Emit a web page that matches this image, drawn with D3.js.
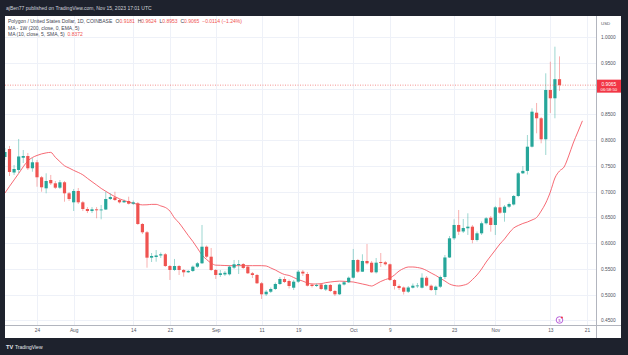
<!DOCTYPE html>
<html><head><meta charset="utf-8">
<script src="https://cdn.jsdelivr.net/npm/d3@7"></script>
<style>
html,body{margin:0;padding:0;background:#1e222d;}
svg{display:block;font-family:"Liberation Sans",Arial,sans-serif;}
</style>
</head><body>
<svg id="c" width="628" height="355"></svg>
<script>
// ---------- DATA (daily candles, first candle 2023-07-17) ----------
const firstDay = "2023-07-17";
const open = [0.7670,0.7825,0.7369,0.7418,0.7656,0.7689,0.7451,0.7567,0.7276,0.7062,0.7223,0.7159,0.7074,0.7179,0.6965,0.6790,0.7010,0.6790,0.6660,0.6621,0.6654,0.6635,0.6650,0.6854,0.6884,0.6835,0.6790,0.6816,0.6763,0.6771,0.6369,0.6208,0.5715,0.5728,0.5758,0.5781,0.5553,0.5476,0.5553,0.5476,0.5431,0.5457,0.5540,0.5606,0.5928,0.5734,0.5476,0.5379,0.5390,0.5392,0.5521,0.5573,0.5592,0.5540,0.5412,0.5379,0.5218,0.5004,0.5054,0.5107,0.5204,0.5301,0.5262,0.5132,0.5249,0.5443,0.5398,0.5189,0.5165,0.5195,0.5097,0.5185,0.5068,0.5004,0.5194,0.5237,0.5326,0.5670,0.5443,0.5651,0.5617,0.5431,0.5631,0.5625,0.5587,0.5282,0.5165,0.5136,0.5054,0.5132,0.5165,0.5132,0.5326,0.5171,0.5087,0.5152,0.5340,0.5719,0.6091,0.6350,0.6224,0.6286,0.6317,0.6058,0.6188,0.6383,0.6491,0.6350,0.6693,0.6588,0.6705,0.6748,0.6913,0.7353,0.7400,0.7870,0.8530,0.8422,0.8014,0.8971,0.8810,0.9181];
const high = [0.7845,0.7884,0.7515,0.8020,0.7806,0.7748,0.7651,0.7612,0.7301,0.7353,0.7321,0.7204,0.7223,0.7204,0.6990,0.7049,0.7068,0.6816,0.6698,0.6698,0.6698,0.6737,0.6996,0.6965,0.6996,0.6854,0.6845,0.6899,0.6825,0.6796,0.6388,0.6233,0.5806,0.5864,0.5816,0.5806,0.5573,0.5690,0.5573,0.5495,0.5476,0.5563,0.5631,0.6350,0.5952,0.5903,0.5495,0.5476,0.5457,0.5563,0.5670,0.5670,0.5611,0.5573,0.5437,0.5398,0.5243,0.5087,0.5136,0.5233,0.5340,0.5346,0.5291,0.5282,0.5476,0.5476,0.5437,0.5214,0.5214,0.5223,0.5204,0.5204,0.5087,0.5214,0.5262,0.5350,0.5884,0.5690,0.5781,0.5981,0.5651,0.5709,0.5806,0.5651,0.5602,0.5301,0.5195,0.5156,0.5165,0.5214,0.5223,0.5412,0.5359,0.5195,0.5175,0.5369,0.5767,0.6136,0.6460,0.6641,0.6466,0.6577,0.6350,0.6223,0.6418,0.6505,0.6524,0.6719,0.6880,0.6737,0.6786,0.6932,0.7379,0.7495,0.8097,0.8616,0.8719,0.8447,0.9295,0.9520,0.9812,0.9624];
const low = [0.7612,0.7301,0.7321,0.7359,0.7553,0.7418,0.7384,0.7093,0.6996,0.6965,0.7126,0.7049,0.7049,0.6802,0.6816,0.6621,0.6757,0.6621,0.6582,0.6582,0.6480,0.6460,0.6641,0.6835,0.6816,0.6767,0.6777,0.6748,0.6737,0.6350,0.6175,0.5521,0.5631,0.5637,0.5709,0.5534,0.5282,0.5457,0.5379,0.5346,0.5418,0.5437,0.5515,0.5592,0.5709,0.5457,0.5301,0.5340,0.5360,0.5369,0.5495,0.5398,0.5495,0.5398,0.5320,0.5204,0.4913,0.4971,0.5029,0.5087,0.5185,0.5223,0.5117,0.5087,0.5223,0.5359,0.5156,0.5136,0.5146,0.5087,0.5068,0.5049,0.4971,0.4990,0.5175,0.5223,0.5311,0.5418,0.5437,0.5583,0.5418,0.5408,0.5534,0.5563,0.5262,0.5097,0.5087,0.4999,0.5029,0.5117,0.5126,0.5117,0.5156,0.5068,0.4990,0.5126,0.5301,0.5709,0.6058,0.6156,0.6194,0.6156,0.5994,0.6029,0.6156,0.6359,0.6220,0.6156,0.6563,0.6414,0.6680,0.6728,0.6890,0.7340,0.7330,0.7855,0.8130,0.7936,0.7709,0.8525,0.8422,0.8953];
const close = [0.7767,0.7379,0.7437,0.7680,0.7689,0.7451,0.7567,0.7276,0.7082,0.7204,0.7159,0.7074,0.7179,0.6965,0.6854,0.7010,0.6790,0.6660,0.6621,0.6654,0.6635,0.6650,0.6854,0.6893,0.6835,0.6790,0.6816,0.6763,0.6790,0.6369,0.6208,0.5715,0.5748,0.5758,0.5781,0.5553,0.5476,0.5553,0.5476,0.5431,0.5457,0.5540,0.5606,0.5928,0.5734,0.5476,0.5379,0.5412,0.5422,0.5540,0.5587,0.5592,0.5515,0.5412,0.5379,0.5218,0.5004,0.5054,0.5107,0.5204,0.5301,0.5243,0.5165,0.5249,0.5443,0.5408,0.5171,0.5165,0.5185,0.5107,0.5185,0.5068,0.5004,0.5194,0.5237,0.5326,0.5670,0.5443,0.5651,0.5606,0.5431,0.5618,0.5612,0.5587,0.5282,0.5165,0.5126,0.5054,0.5136,0.5171,0.5175,0.5326,0.5171,0.5087,0.5152,0.5340,0.5719,0.6091,0.6350,0.6220,0.6291,0.6317,0.6058,0.6188,0.6383,0.6480,0.6350,0.6693,0.6588,0.6705,0.6757,0.6913,0.7353,0.7400,0.7870,0.8550,0.8422,0.8014,0.8971,0.8810,0.9181,0.9065];
// MA(10, close, offset 5) line, one value per day from 2023-07-17 (runs 5 days past last candle)
const maValues = [0.697,0.710,0.7225,0.735,0.748,0.7594,0.766,0.770,0.773,0.775,0.776,0.7664,0.758,0.750,0.7456,0.741,0.737,0.7324,0.7256,0.719,0.7126,0.706,0.7004,0.695,0.690,0.6858,0.6825,0.6796,0.677,0.6753,0.674,0.6742,0.675,0.675,0.672,0.669,0.662,0.6486,0.639,0.627,0.6146,0.603,0.590,0.5767,0.568,0.561,0.557,0.5567,0.5563,0.556,0.556,0.556,0.556,0.556,0.556,0.556,0.556,0.5554,0.5515,0.5476,0.5427,0.5388,0.537,0.533,0.529,0.526,0.5224,0.5204,0.5204,0.521,0.523,0.5243,0.5253,0.526,0.5256,0.525,0.5243,0.5224,0.5204,0.5185,0.5165,0.5204,0.5253,0.529,0.532,0.5379,0.5456,0.5505,0.5534,0.5534,0.5524,0.5505,0.5466,0.5417,0.537,0.5315,0.5262,0.5204,0.5175,0.5165,0.518,0.521,0.529,0.538,0.5495,0.563,0.5748,0.5864,0.598,0.6078,0.6194,0.6291,0.634,0.6379,0.6408,0.6447,0.6495,0.662,0.6777,0.699,0.7262,0.7398,0.7476,0.769,0.7942,0.8155,0.8372];
const priceTicks = [0.45,0.50,0.55,0.60,0.65,0.70,0.75,0.80,0.85,0.90,0.95,1.00];
const timeTickDates = ["2023-07-24","2023-08-01","2023-08-14","2023-08-22","2023-09-01","2023-09-11","2023-09-19","2023-10-01","2023-10-09","2023-10-23","2023-11-01","2023-11-13","2023-11-21"];
const timeTickLabels = ["24","Aug","14","22","Sep","11","19","Oct","9","23","Nov","13","21"];
const lastPrice = 0.9065;
const countdown = "06:58:50";
const headerText = "ajBen77 published on TradingView.com, Nov 15, 2023 17:01 UTC";
const symbolText = "Polygon / United States Dollar, 1D, COINBASE";
const ohlcLabels = ["O","H","L","C"];
const ohlcValues = ["0.9181","0.9624","0.8953","0.9065"];
const changeText = "\u22120.0114 (\u22121.24%)";
const ma1Text = "MA - 1W (200, close, 0, EMA, 5)";
const ma2Text = "MA (10, close, 5, SMA, 5)";
const ma2Value = "0.8372";

// ---------- LAYOUT ----------
const W = 628, H = 355;
const panel = {l:5, r:621, t:16, b:338};
const plot = {l:5, r:596, t:16, b:325};
const GREEN = "#26a69a", RED = "#ef5350", BG = "#1e222d";

const svg = d3.select("#c");
const parse = d3.utcParse("%Y-%m-%d");
const d0 = parse(firstDay);
const dates = close.map((_, i) => d3.utcDay.offset(d0, i));
const maDates = maValues.map((_, i) => d3.utcDay.offset(d0, i));

const x = d3.scaleUtc().domain([parse("2023-07-24"), parse("2023-11-21")]).range([37, 587]);
const y = d3.scaleLinear().domain([0.45, 1.0]).range([320.25, 37]);

svg.append("rect").attr("width", W).attr("height", H).attr("fill", BG);
svg.append("rect").attr("x", panel.l).attr("y", panel.t).attr("width", panel.r - panel.l).attr("height", panel.b - panel.t).attr("fill", "#ffffff");

const defs = svg.append("defs");
defs.append("clipPath").attr("id", "clip").append("rect")
  .attr("x", plot.l).attr("y", plot.t).attr("width", plot.r - plot.l).attr("height", plot.b - plot.t);

// grid
const grid = svg.append("g").attr("clip-path", "url(#clip)");
grid.selectAll("line.h").data(priceTicks).join("line")
  .attr("x1", plot.l).attr("x2", plot.r)
  .attr("y1", d => Math.round(y(d)) + 0.5).attr("y2", d => Math.round(y(d)) + 0.5)
  .attr("stroke", "#eef1f8").attr("stroke-width", 1);
grid.selectAll("line.v").data(timeTickDates).join("line")
  .attr("x1", d => Math.round(x(parse(d))) + 0.5).attr("x2", d => Math.round(x(parse(d))) + 0.5)
  .attr("y1", plot.t).attr("y2", plot.b)
  .attr("stroke", "#eef1f8").attr("stroke-width", 1);

const g = svg.append("g").attr("clip-path", "url(#clip)");

// MA line
g.append("path")
  .datum(maValues.map((v, i) => [maDates[i], v]))
  .attr("fill", "none").attr("stroke", "#f4505c").attr("stroke-width", 1).attr("stroke-opacity", 0.85)
  .attr("d", d3.line().x(d => x(d[0])).y(d => y(d[1])).curve(d3.curveMonotoneX));

// candles
const candles = dates.map((d, i) => ({d, o: open[i], h: high[i], l: low[i], c: close[i]}));
const bw = 3.2;
g.selectAll("line.wick").data(candles).join("line")
  .attr("x1", d => x(d.d)).attr("x2", d => x(d.d))
  .attr("y1", d => y(d.h)).attr("y2", d => y(d.l))
  .attr("stroke", d => d.c >= d.o ? GREEN : RED).attr("stroke-opacity", 0.45).attr("stroke-width", 1);
g.selectAll("rect.body").data(candles).join("rect")
  .attr("x", d => x(d.d) - bw / 2).attr("width", bw)
  .attr("y", d => y(Math.max(d.o, d.c)))
  .attr("height", d => Math.max(0.8, Math.abs(y(d.o) - y(d.c))))
  .attr("fill", d => d.c >= d.o ? GREEN : RED);

// last price dotted line
g.append("line").attr("x1", plot.l).attr("x2", plot.r)
  .attr("y1", y(lastPrice)).attr("y2", y(lastPrice))
  .attr("stroke", RED).attr("stroke-width", 0.8).attr("stroke-dasharray", "1,1.5").attr("stroke-opacity", 0.8);

// event marker
const ev = svg.append("g").attr("transform", `translate(${x(parse("2023-11-15"))},320)`);
ev.append("circle").attr("r", 3.3).attr("fill", "#fff").attr("stroke", "#b04fd6").attr("stroke-width", 0.9);
ev.append("text").attr("y", 1.6).attr("text-anchor", "middle").attr("font-size", 4.2).attr("fill", "#b04fd6").text("$");
ev.append("circle").attr("cx", 2.4).attr("cy", -2.4).attr("r", 1).attr("fill", "#f23645");

// axis borders
svg.append("line").attr("x1", plot.r + 0.5).attr("x2", plot.r + 0.5).attr("y1", panel.t).attr("y2", panel.b).attr("stroke", "#b2b5be").attr("stroke-width", 1);
svg.append("line").attr("x1", panel.l).attr("x2", panel.r).attr("y1", plot.b + 0.5).attr("y2", plot.b + 0.5).attr("stroke", "#b2b5be").attr("stroke-width", 1);

// price axis
const yAxis = d3.axisRight(y).tickValues(priceTicks).tickFormat(d3.format(".4f")).tickSize(0).tickPadding(5);
const ya = svg.append("g").attr("transform", `translate(${plot.r},0)`).call(yAxis);
ya.select(".domain").remove();
ya.selectAll("text").attr("font-size", 4.8).attr("fill", "#50535e").attr("font-family", "Liberation Sans, Arial, sans-serif");
ya.selectAll(".tick").filter(d => Math.abs(d - 0.90) < 1e-9).remove();

// time axis
const xAxis = d3.axisBottom(x).tickValues(timeTickDates.map(parse))
  .tickFormat((d, i) => timeTickLabels[i]).tickSize(0).tickPadding(4);
const xa = svg.append("g").attr("transform", `translate(0,${plot.b})`).call(xAxis);
xa.select(".domain").remove();
xa.selectAll("text").attr("font-size", 4.8).attr("fill", "#50535e").attr("font-family", "Liberation Sans, Arial, sans-serif");

// USD label
svg.append("text").attr("x", 601).attr("y", 24.5).attr("font-size", 4.4).attr("fill", "#50535e").text("USD");

// last price tag
const ty = y(lastPrice);
svg.append("rect").attr("x", plot.r + 1).attr("y", ty - 5.5).attr("width", panel.r - plot.r - 1).attr("height", 13).attr("fill", "#f23645");
svg.append("text").attr("x", 601.5).attr("y", ty + 1.2).attr("font-size", 4.8).attr("fill", "#fff").text(d3.format(".4f")(lastPrice));
svg.append("text").attr("x", 600.5).attr("y", ty + 6.3).attr("font-size", 4.3).attr("fill", "#fff").text(countdown);

// header
svg.append("text").attr("x", 6).attr("y", 10).attr("font-size", 5).attr("fill", "#d1d4dc").text(headerText);

// legend
const lg = svg.append("g").attr("font-size", 5);
const l1 = lg.append("text").attr("x", 8).attr("y", 23.4).attr("fill", "#434651");
l1.append("tspan").text(symbolText);
ohlcLabels.forEach((lab, i) => {
  l1.append("tspan").attr("dx", i === 0 ? 2 : 1.5).attr("fill", "#434651").text(" " + lab);
  l1.append("tspan").attr("fill", RED).text(ohlcValues[i]);
});
l1.append("tspan").attr("dx", 1.5).attr("fill", RED).text(" " + changeText);
lg.append("text").attr("x", 8).attr("y", 29.8).attr("fill", "#434651").text(ma1Text);
const l3 = lg.append("text").attr("x", 8).attr("y", 36).attr("fill", "#434651");
l3.append("tspan").text(ma2Text);
l3.append("tspan").attr("dx", 1.5).attr("fill", RED).text(" " + ma2Value);

// footer logo
svg.append("text").attr("x", 6).attr("y", 348.5).attr("font-size", 5.6).attr("font-weight", "bold").attr("fill", "#e6e8ee").text("TV");
svg.append("text").attr("x", 15).attr("y", 348.5).attr("font-size", 5).attr("fill", "#e6e8ee").text("TradingView");
</script>
</body></html>
